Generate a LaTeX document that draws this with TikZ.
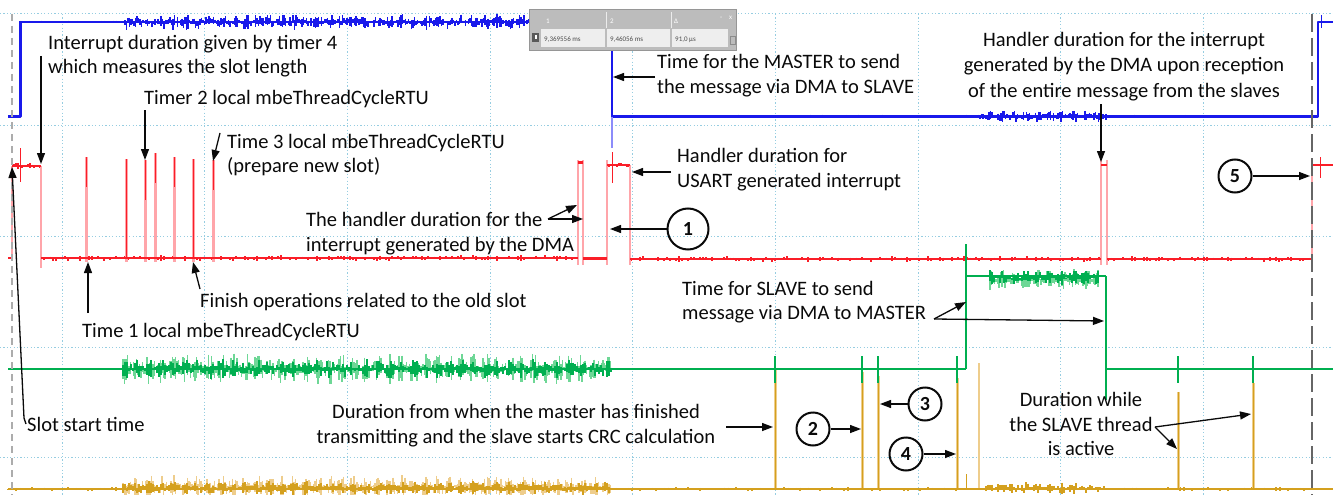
\documentclass[tikz,border=0pt]{standalone}
\usepackage{fontspec}
\setmainfont{Carlito}
\usetikzlibrary{arrows.meta}
\definecolor{tblue}{RGB}{25,25,235}
\definecolor{tlblue}{RGB}{140,140,250}
\definecolor{tred}{RGB}{250,30,40}
\definecolor{tpink}{RGB}{255,165,170}
\definecolor{tgreen}{RGB}{0,175,80}
\definecolor{tlgreen}{RGB}{110,215,150}
\definecolor{torange}{RGB}{212,160,30}
\definecolor{tlorange}{RGB}{238,205,140}
\definecolor{gridc}{RGB}{150,205,225}
\definecolor{ink}{RGB}{10,10,10}
\definecolor{boxgray}{RGB}{188,188,188}
\definecolor{boxedge}{RGB}{150,150,150}
\definecolor{cellgray}{RGB}{238,238,238}

% random vertical jitter along a trace: colour, first x, second x, last x, level, amplitude
\newcommand\tracenoise[6]{%
  \foreach \xx in {#2,#3,...,#4}{%
    \pgfmathsetmacro\envl{0.3+0.7*abs(sin(mod(\xx,24)*15))}%
    \pgfmathsetmacro\nup{#6*rnd*\envl}%
    \pgfmathsetmacro\ndn{#6*rnd*\envl}%
    \draw[#1,line width=1.3pt] (\xx,#5-\nup) -- (\xx,#5+\ndn);
  }}

\begin{document}
\begin{tikzpicture}[x=1pt,y=-1pt,
  gridline/.style={draw=gridc,line width=1pt,dash pattern=on 1.2pt off 2.2pt},
  callout/.style={draw=ink,line width=1.3pt,-{Triangle[length=11pt,width=8pt]}},
  lbl/.style={inner sep=0pt,anchor=base west,text=ink,font=\fontsize{20.5}{24.5}\selectfont},
  lblc/.style={lbl,anchor=base},
  numc/.style={circle,draw=ink,line width=2pt,inner sep=0pt,minimum size=33pt,
    font=\fontsize{20}{24}\selectfont\bfseries,text=ink},
  trc/.style={line width=2.4pt,line join=round},
  edge/.style={line width=2.5pt},
  tiny/.style={inner sep=0pt,anchor=base west,font=\fontsize{7}{8}\selectfont}]

\useasboundingbox (0,0) rectangle (1333,495);
\fill[white] (0,0) rectangle (1333,495);
\clip (0,0) rectangle (1333,495);
\pgfmathsetseed{42}

% ---------- scope graticule ----------
\foreach \gy in {14,125,236,347,457} \draw[gridline] (0,\gy) -- (1333,\gy);
\foreach \k in {0,...,8} \draw[gridline] ({62+142.7*\k},14) -- ({62+142.7*\k},495);

% ---------- channel 1 (blue) ----------
\tracenoise{tblue}{125}{126.5}{611}{22}{8}
\tracenoise{tblue}{20}{23}{124}{22}{1.5}
\tracenoise{tblue}{615}{618}{1316}{116.5}{2}
\tracenoise{tblue}{980}{981.5}{1106}{116.5}{6}
\draw[tblue,trc] (8,116.5) -- (20.5,116.5) -- (20.5,22) -- (612,22) -- (612,116.5)
  -- (1318,116.5) -- (1318,22) -- (1333,22);
\draw[tblue,line width=1pt] (1321,15) -- (1321,28);
\draw[tlblue,line width=1.2pt] (612,116.5) -- (612,148);

% ---------- channel 2 (red) ----------
\tracenoise{tred}{41}{44}{577}{258}{3}
\tracenoise{tred}{631}{634}{1100}{259}{3}
\tracenoise{tred}{1108}{1111}{1311}{259}{3}
\tracenoise{tred}{12}{14}{41}{166}{3}
\tracenoise{tred}{607}{609}{630}{165}{3}
\foreach \ex/\ya/\yb in {12/166/258,41/166/268,578/160/265,583/160/265,607/160/265,
  630/165/265,1101/160/265,1107/160/265,1312/165/262}
  \draw[tpink,edge] (\ex,\ya) -- (\ex,\yb);
\foreach \sx/\st/\cl in {86/157/30,126/159/100,145/160/40,155/153/30,174/157/30,193/159/100,213/160/30}{
  \draw[tpink,line width=3pt] (\sx,\st) -- (\sx,262);
  \draw[tred,line width=1pt] (\sx,\st) -- (\sx,\st+\cl);
}
\draw[tred,trc] (8,258) -- (12,258);
\draw[tred,trc] (12,166) -- (41,166);
\draw[tred,line width=1pt] (20,148) -- (20,182);
\draw[tred,trc] (41,258) -- (578,258);
\draw[tred,line width=3pt] (578,162) -- (583,162);
\draw[tred,trc] (583,258.5) -- (607,258.5);
\draw[tred,trc] (607,165) -- (630,165);
\draw[tred,line width=1pt] (612,152) -- (612,183);
\draw[tred,trc] (630,259) -- (1101,259);
\draw[tred,trc] (1101,165) -- (1107,165);
\draw[tred,trc] (1107,259) -- (1312,259);
\draw[tred,trc] (1312,165) -- (1333,165);
\draw[tred,line width=1pt] (1320,157) -- (1320,178);

% ---------- channel 4 (orange) ----------
\tracenoise{tlorange}{123}{124.5}{611}{487}{12}
\tracenoise{torange}{123}{125}{611}{488}{7}
\tracenoise{torange}{984}{986}{1105}{488}{6}
\tracenoise{torange}{8}{12}{1333}{489}{2}
\foreach \sx/\st in {775/370,862/372,878/376,957/378,1178/392,1253/383}{
  \draw[tlorange,line width=3pt] (\sx,\st) -- (\sx,489);
  \draw[torange,line width=1pt] (\sx,\st) -- (\sx,489);
}
\draw[tlorange,line width=2pt] (979,363) -- (979,489);
\draw[torange,line width=1pt] (966,474) -- (966,489);
\draw[torange,trc] (8,489) -- (1333,489);

% ---------- channel 3 (green) ----------
\tracenoise{tlgreen}{123}{124.5}{611}{369}{16}
\tracenoise{tgreen}{123}{125}{611}{369}{10}
\tracenoise{tlgreen}{990}{991.5}{1098}{280}{11}
\tracenoise{tgreen}{990}{992}{1098}{278}{8}
\draw[tgreen,trc] (8,369) -- (966,369);
\draw[tgreen,line width=1.2pt] (966,244) -- (966,369);
\draw[tgreen,trc] (966,276) -- (1106,276);
\draw[tgreen,line width=1.2pt] (1106,276) -- (1106,400);
\draw[tgreen,trc] (1106,369) -- (1333,369);
\foreach \sx in {775,862,878,957,1178,1253}
  \draw[tgreen,line width=1.6pt] (\sx,356) -- (\sx,383);

% ---------- trigger markers ----------
\draw[gray!65,line width=1.6pt,dash pattern=on 7pt off 5pt] (12,14) -- (12,495);
\draw[black!60,line width=1.6pt,dash pattern=on 18pt off 6pt] (1312,14) -- (1312,495);

% ---------- cursor readout ----------
\fill[boxgray,draw=boxedge,line width=0.8pt] (529,9) rectangle (736,50);
\fill[cellgray] (541,29) rectangle (605,47);
\fill[cellgray] (607,29) rectangle (670,47);
\fill[cellgray] (672,29) rectangle (728,47);
\draw[white!85!gray,line width=0.8pt] (606,12) -- (606,28) (671,12) -- (671,28);
\fill[black!65] (532,33) rectangle (539,42);
\fill[white] (534.5,35.5) rectangle (536.5,39.5);
\node[tiny,text=white] (rh1) at (546,24) {1};
\node[tiny,text=white] (rh2) at (610,24) {2};
\node[tiny,text=white] (rh3) at (674,24) {Δ};
\node[tiny,text=white] (rhm) at (720,20) {-};
\node[tiny,text=white] (rhx) at (729,20) {x};
\node[tiny,text=black!70] (rv1) at (544,42) {9,369556 ms};
\node[tiny,text=black!70] (rv2) at (610,42) {9,46056 ms};
\node[tiny,text=black!70] (rv3) at (675,42) {91,0 µs};
\draw[black!45,line width=0.7pt] (730,36) rectangle (735,44);

% ---------- annotations ----------
\node[lbl] (int1) at (48,50) {Interrupt duration given by timer 4};
\node[lbl] (int2) at (48,74) {which measures the slot length};
\node[lbl] (tm2) at (144,104) {Timer 2 local mbeThreadCycleRTU};
\node[lbl] (tm3a) at (227,148) {Time 3 local mbeThreadCycleRTU};
\node[lbl] (tm3b) at (227,172.5) {(prepare new slot)};
\node[lbl] (dma1) at (306,226.5) {The handler duration for the};
\node[lbl] (dma2) at (306,251) {interrupt generated by the DMA};
\node[lbl] (fin) at (200,307.5) {Finish operations related to the old slot};
\node[lbl] (tm1) at (82,337) {Time 1 local mbeThreadCycleRTU};
\node[lbl] (slot) at (27,431) {Slot start time};
\node[lblc] (crc1) at (516,418) {Duration from when the master has finished};
\node[lblc] (crc2) at (516,443) {transmitting and the slave starts CRC calculation};
\node[lbl] (mst1) at (657,68) {Time for the MASTER to send};
\node[lbl] (mst2) at (657,93) {the message via DMA to SLAVE};
\node[lblc] (rx1) at (1124,47) {Handler duration for the interrupt};
\node[lblc] (rx2) at (1124,72) {generated by the DMA upon reception};
\node[lblc] (rx3) at (1124,97) {of the entire message from the slaves};
\node[lbl] (us1) at (677,162) {Handler duration for};
\node[lbl] (us2) at (677,187) {USART generated interrupt};
\node[lbl] (slv1) at (682,295) {Time for SLAVE to send};
\node[lbl] (slv2) at (682,319) {message via DMA to MASTER};
\node[lblc] (act1) at (1081,406) {Duration while};
\node[lblc] (act2) at (1081,431) {the SLAVE thread};
\node[lblc] (act3) at (1081,455) {is active};

\node[numc,minimum size=41pt] (c1) at (688,229) {1};
\node[numc] (c2) at (813,429) {2};
\node[numc] (c3) at (925,404) {3};
\node[numc] (c4) at (906,454) {4};
\node[numc] (c5) at (1235,176) {5};

% arrow ends
\coordinate (intA) at (41,56);   \coordinate (intB) at (41,164);
\coordinate (tm2A) at (145,110); \coordinate (tm2B) at (145,160);
\coordinate (tm3A) at (220,133); \coordinate (tm3B) at (213,161);
\coordinate (dmaA) at (548,219); \coordinate (dmaB) at (577,205); \coordinate (dmaC) at (583,219);
\coordinate (finA) at (200,289); \coordinate (finB) at (193,262);
\coordinate (tm1A) at (88,313);  \coordinate (tm1B) at (88,262);
\coordinate (slotA) at (26,424); \coordinate (slotK) at (24,418); \coordinate (slotB) at (12,167);
\coordinate (crcA) at (726,427); \coordinate (crcB) at (773,427);
\coordinate (mstA) at (655,77);  \coordinate (mstB) at (613,77);
\coordinate (rxA) at (1101,104); \coordinate (rxB) at (1101,162);
\coordinate (usA) at (671,172);  \coordinate (usB) at (632,172);
\coordinate (slvA) at (934,319); \coordinate (slvB) at (966,302); \coordinate (slvC) at (1104,321);
\coordinate (actA) at (1155,427); \coordinate (actB) at (1177,449); \coordinate (actC) at (1251,414);
\coordinate (c1B) at (610,229);
\coordinate (c2B) at (861,429);
\coordinate (c3B) at (880,404);
\coordinate (c4B) at (956,454);
\coordinate (c5B) at (1310,176);

\draw[callout] (intA) -- (intB);
\draw[callout] (tm2A) -- (tm2B);
\draw[callout] (tm3A) -- (tm3B);
\draw[callout] (dmaA) -- (dmaB);
\draw[callout] (dmaA) -- (dmaC);
\draw[callout] (finA) -- (finB);
\draw[callout] (tm1A) -- (tm1B);
\draw[callout] (slotA) -- (slotK) -- (slotB);
\draw[callout] (crcA) -- (crcB);
\draw[callout] (mstA) -- (mstB);
\draw[callout] (rxA) -- (rxB);
\draw[callout] (usA) -- (usB);
\draw[callout] (slvA) -- (slvB);
\draw[callout] (slvA) -- (slvC);
\draw[callout] (actA) -- (actB);
\draw[callout] (actA) -- (actC);
\draw[callout] (c1) -- (c1B);
\draw[callout] (c2) -- (c2B);
\draw[callout] (c3) -- (c3B);
\draw[callout] (c4) -- (c4B);
\draw[callout] (c5) -- (c5B);
\end{tikzpicture}
\end{document}
